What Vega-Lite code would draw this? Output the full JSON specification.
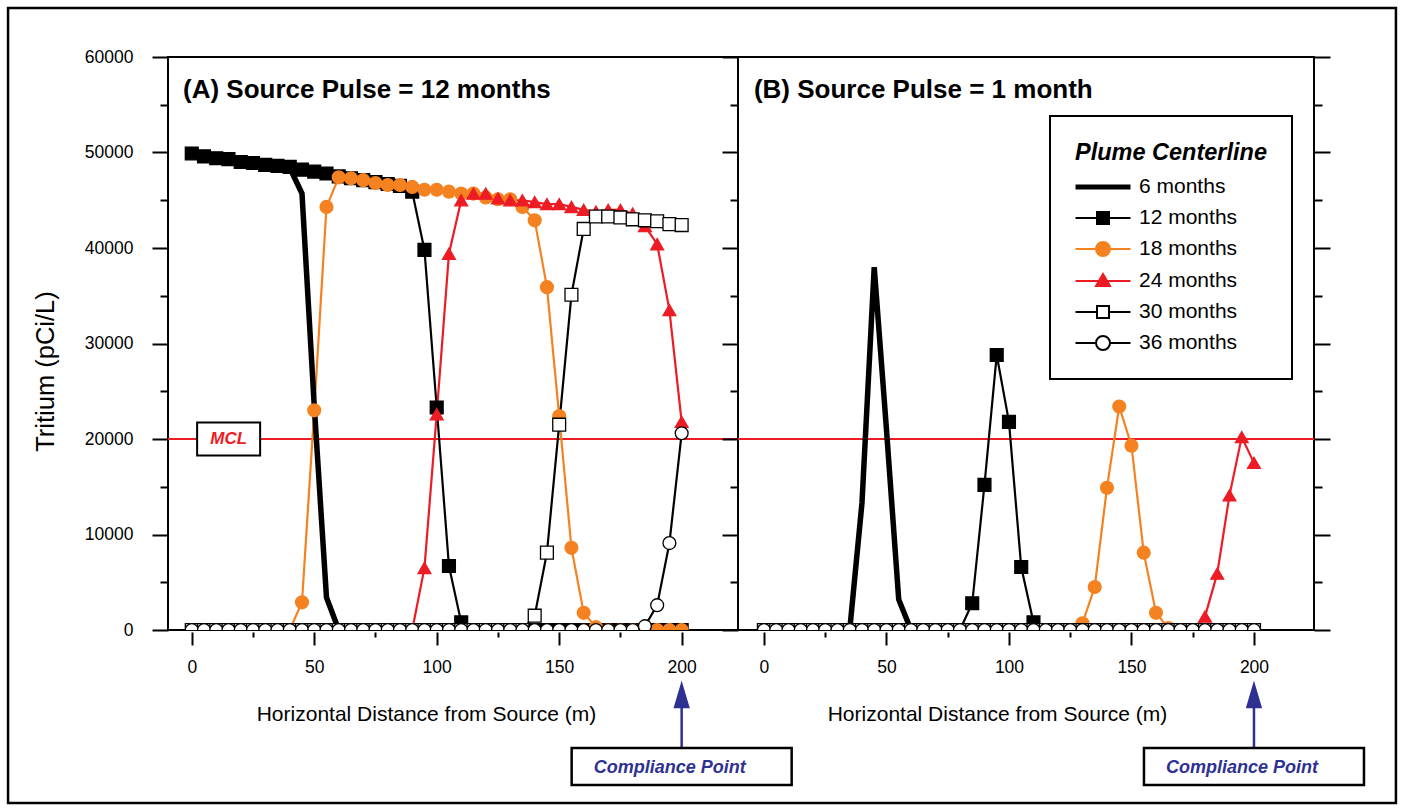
{
"$schema": "https://vega.github.io/schema/vega-lite/v6.json",
"background": "white",
"padding": {"left": 5, "top": 5, "right": 8, "bottom": 9},
"spacing": 0,
"bounds": "flush",
"datasets": {
"A": [
{"d":0,"6 months":49900,"12 months":49900,"18 months":0,"24 months":0,"30 months":0,"36 months":0},
{"d":5,"6 months":49600,"12 months":49600,"18 months":0,"24 months":0,"30 months":0,"36 months":0},
{"d":10,"6 months":49400,"12 months":49400,"18 months":0,"24 months":0,"30 months":0,"36 months":0},
{"d":15,"6 months":49300,"12 months":49300,"18 months":0,"24 months":0,"30 months":0,"36 months":0},
{"d":20,"6 months":49000,"12 months":49000,"18 months":0,"24 months":0,"30 months":0,"36 months":0},
{"d":25,"6 months":48900,"12 months":48900,"18 months":0,"24 months":0,"30 months":0,"36 months":0},
{"d":30,"6 months":48700,"12 months":48700,"18 months":0,"24 months":0,"30 months":0,"36 months":0},
{"d":35,"6 months":48600,"12 months":48600,"18 months":0,"24 months":0,"30 months":0,"36 months":0},
{"d":40,"6 months":48400,"12 months":48500,"18 months":0,"24 months":0,"30 months":0,"36 months":0},
{"d":45,"6 months":45700,"12 months":48200,"18 months":2900,"24 months":0,"30 months":0,"36 months":0},
{"d":50,"6 months":23500,"12 months":48000,"18 months":23000,"24 months":0,"30 months":0,"36 months":0},
{"d":55,"6 months":3400,"12 months":47800,"18 months":44300,"24 months":0,"30 months":0,"36 months":0},
{"d":60,"6 months":0,"12 months":47500,"18 months":47400,"24 months":0,"30 months":0,"36 months":0},
{"d":65,"6 months":0,"12 months":47300,"18 months":47300,"24 months":0,"30 months":0,"36 months":0},
{"d":70,"6 months":0,"12 months":47100,"18 months":47100,"24 months":0,"30 months":0,"36 months":0},
{"d":75,"6 months":0,"12 months":46900,"18 months":46800,"24 months":0,"30 months":0,"36 months":0},
{"d":80,"6 months":0,"12 months":46700,"18 months":46600,"24 months":0,"30 months":0,"36 months":0},
{"d":85,"6 months":0,"12 months":46500,"18 months":46600,"24 months":0,"30 months":0,"36 months":0},
{"d":90,"6 months":0,"12 months":45900,"18 months":46400,"24 months":0,"30 months":0,"36 months":0},
{"d":95,"6 months":0,"12 months":39800,"18 months":46100,"24 months":6500,"30 months":0,"36 months":0},
{"d":100,"6 months":0,"12 months":23300,"18 months":46100,"24 months":22600,"30 months":0,"36 months":0},
{"d":105,"6 months":0,"12 months":6700,"18 months":45900,"24 months":39400,"30 months":0,"36 months":0},
{"d":110,"6 months":0,"12 months":800,"18 months":45700,"24 months":45000,"30 months":0,"36 months":0},
{"d":115,"6 months":0,"12 months":0,"18 months":45700,"24 months":45700,"30 months":0,"36 months":0},
{"d":120,"6 months":0,"12 months":0,"18 months":45300,"24 months":45700,"30 months":0,"36 months":0},
{"d":125,"6 months":0,"12 months":0,"18 months":45100,"24 months":45200,"30 months":0,"36 months":0},
{"d":130,"6 months":0,"12 months":0,"18 months":45100,"24 months":45000,"30 months":0,"36 months":0},
{"d":135,"6 months":0,"12 months":0,"18 months":44300,"24 months":45000,"30 months":0,"36 months":0},
{"d":140,"6 months":0,"12 months":0,"18 months":42900,"24 months":44800,"30 months":1500,"36 months":0},
{"d":145,"6 months":0,"12 months":0,"18 months":35900,"24 months":44600,"30 months":8100,"36 months":0},
{"d":150,"6 months":0,"12 months":0,"18 months":22400,"24 months":44600,"30 months":21500,"36 months":0},
{"d":155,"6 months":0,"12 months":0,"18 months":8600,"24 months":44300,"30 months":35100,"36 months":0},
{"d":160,"6 months":0,"12 months":0,"18 months":1800,"24 months":44000,"30 months":42000,"36 months":0},
{"d":165,"6 months":0,"12 months":0,"18 months":300,"24 months":43800,"30 months":43300,"36 months":0},
{"d":170,"6 months":0,"12 months":0,"18 months":0,"24 months":44000,"30 months":43300,"36 months":0},
{"d":175,"6 months":0,"12 months":0,"18 months":0,"24 months":44000,"30 months":43200,"36 months":0},
{"d":180,"6 months":0,"12 months":0,"18 months":0,"24 months":43600,"30 months":43000,"36 months":0},
{"d":185,"6 months":0,"12 months":0,"18 months":0,"24 months":42300,"30 months":42900,"36 months":400},
{"d":190,"6 months":0,"12 months":0,"18 months":0,"24 months":40400,"30 months":42800,"36 months":2600},
{"d":195,"6 months":0,"12 months":0,"18 months":0,"24 months":33500,"30 months":42500,"36 months":9100},
{"d":200,"6 months":0,"12 months":0,"18 months":0,"24 months":21800,"30 months":42400,"36 months":20600}
],
"B": [
{"d":0,"6 months":0,"12 months":0,"18 months":0,"24 months":0,"30 months":0,"36 months":0},
{"d":5,"6 months":0,"12 months":0,"18 months":0,"24 months":0,"30 months":0,"36 months":0},
{"d":10,"6 months":0,"12 months":0,"18 months":0,"24 months":0,"30 months":0,"36 months":0},
{"d":15,"6 months":0,"12 months":0,"18 months":0,"24 months":0,"30 months":0,"36 months":0},
{"d":20,"6 months":0,"12 months":0,"18 months":0,"24 months":0,"30 months":0,"36 months":0},
{"d":25,"6 months":0,"12 months":0,"18 months":0,"24 months":0,"30 months":0,"36 months":0},
{"d":30,"6 months":0,"12 months":0,"18 months":0,"24 months":0,"30 months":0,"36 months":0},
{"d":35,"6 months":0,"12 months":0,"18 months":0,"24 months":0,"30 months":0,"36 months":0},
{"d":40,"6 months":13300,"12 months":0,"18 months":0,"24 months":0,"30 months":0,"36 months":0},
{"d":45,"6 months":38000,"12 months":0,"18 months":0,"24 months":0,"30 months":0,"36 months":0},
{"d":50,"6 months":21000,"12 months":0,"18 months":0,"24 months":0,"30 months":0,"36 months":0},
{"d":55,"6 months":3200,"12 months":0,"18 months":0,"24 months":0,"30 months":0,"36 months":0},
{"d":60,"6 months":0,"12 months":0,"18 months":0,"24 months":0,"30 months":0,"36 months":0},
{"d":65,"6 months":0,"12 months":0,"18 months":0,"24 months":0,"30 months":0,"36 months":0},
{"d":70,"6 months":0,"12 months":0,"18 months":0,"24 months":0,"30 months":0,"36 months":0},
{"d":75,"6 months":0,"12 months":0,"18 months":0,"24 months":0,"30 months":0,"36 months":0},
{"d":80,"6 months":0,"12 months":0,"18 months":0,"24 months":0,"30 months":0,"36 months":0},
{"d":85,"6 months":0,"12 months":2800,"18 months":0,"24 months":0,"30 months":0,"36 months":0},
{"d":90,"6 months":0,"12 months":15200,"18 months":0,"24 months":0,"30 months":0,"36 months":0},
{"d":95,"6 months":0,"12 months":28800,"18 months":0,"24 months":0,"30 months":0,"36 months":0},
{"d":100,"6 months":0,"12 months":21800,"18 months":0,"24 months":0,"30 months":0,"36 months":0},
{"d":105,"6 months":0,"12 months":6600,"18 months":0,"24 months":0,"30 months":0,"36 months":0},
{"d":110,"6 months":0,"12 months":800,"18 months":0,"24 months":0,"30 months":0,"36 months":0},
{"d":115,"6 months":0,"12 months":0,"18 months":0,"24 months":0,"30 months":0,"36 months":0},
{"d":120,"6 months":0,"12 months":0,"18 months":0,"24 months":0,"30 months":0,"36 months":0},
{"d":125,"6 months":0,"12 months":0,"18 months":0,"24 months":0,"30 months":0,"36 months":0},
{"d":130,"6 months":0,"12 months":0,"18 months":700,"24 months":0,"30 months":0,"36 months":0},
{"d":135,"6 months":0,"12 months":0,"18 months":4500,"24 months":0,"30 months":0,"36 months":0},
{"d":140,"6 months":0,"12 months":0,"18 months":14900,"24 months":0,"30 months":0,"36 months":0},
{"d":145,"6 months":0,"12 months":0,"18 months":23400,"24 months":0,"30 months":0,"36 months":0},
{"d":150,"6 months":0,"12 months":0,"18 months":19300,"24 months":0,"30 months":0,"36 months":0},
{"d":155,"6 months":0,"12 months":0,"18 months":8100,"24 months":0,"30 months":0,"36 months":0},
{"d":160,"6 months":0,"12 months":0,"18 months":1800,"24 months":0,"30 months":0,"36 months":0},
{"d":165,"6 months":0,"12 months":0,"18 months":200,"24 months":0,"30 months":0,"36 months":0},
{"d":170,"6 months":0,"12 months":0,"18 months":0,"24 months":0,"30 months":0,"36 months":0},
{"d":175,"6 months":0,"12 months":0,"18 months":0,"24 months":0,"30 months":0,"36 months":0},
{"d":180,"6 months":0,"12 months":0,"18 months":0,"24 months":1400,"30 months":0,"36 months":0},
{"d":185,"6 months":0,"12 months":0,"18 months":0,"24 months":5900,"30 months":0,"36 months":0},
{"d":190,"6 months":0,"12 months":0,"18 months":0,"24 months":14100,"30 months":0,"36 months":0},
{"d":195,"6 months":0,"12 months":0,"18 months":0,"24 months":20200,"30 months":0,"36 months":0},
{"d":200,"6 months":0,"12 months":0,"18 months":0,"24 months":17500,"30 months":0,"36 months":0}
]
},
"hconcat": [
{
"width": 570, "height": 573,
"data": {"name": "A"},
"resolve": {"axis": {"x": "independent", "y": "independent"}},
"layer": [
{
"data": {"values": [{}]},
"mark": {"type": "rect", "fillOpacity": 0, "stroke": "black", "strokeWidth": 2.5, "clip": false},
"encoding": {
"x": {"datum": -75.0, "type": "quantitative", "axis": null},
"x2": {"datum": 491.6},
"y": {"datum": 65131, "type": "quantitative", "axis": null},
"y2": {"datum": -18115}
}
},
{
"data": {"values": [{}]},
"mark": {"type": "rule", "color": "#ED1C24", "strokeWidth": 2},
"encoding": {"y": {"datum": 20000, "type": "quantitative", "axis": null}}
},
{
"transform": [{"fold": ["6 months","12 months","18 months","24 months","30 months","36 months"], "as": ["series","conc"]}, {"filter": "datum.series !== '6 months'"}],
"mark": {"type": "line", "strokeWidth": 2.2, "clip": true},
"encoding": {
"x": {"field": "d", "type": "quantitative", "scale": {"domain": [-9.7, 223], "nice": false, "zero": false},
"axis": {"orient": "bottom", "values": [0,50,100,150,200], "tickSize": 13, "offset": 2, "labelPadding": 13, "title": "Horizontal Distance from Source (m)", "titleFontSize": 21, "titleX": 258, "titleY": 88, "titleAlign": "center", "titleBaseline": "alphabetic"}},
"y": {"field": "conc", "type": "quantitative", "scale": {"domain": [0, 60000], "nice": false},
"axis": {"orient": "left", "values": [0,10000,20000,30000,40000,50000,60000], "format": "d", "tickSize": 16, "labelPadding": 19, "title": "Tritium (pCi/L)", "titleFontSize": 25.5, "titleX": -123, "titleY": 314, "titleAngle": -90, "titleAlign": "center", "titleBaseline": "middle"}},
"stroke": {"field": "series", "type": "nominal", "scale": {"domain": ["6 months","12 months","18 months","24 months","30 months","36 months"], "range": ["#000000","#000000","#F58220","#ED1C24","#000000","#000000"]}, "legend": null}
}
},
{
"transform": [{"fold": ["6 months","12 months","18 months","24 months","30 months","36 months"], "as": ["series","conc"]}, {"filter": "datum.series === '6 months'"}],
"mark": {"type": "line", "strokeWidth": 5.5, "clip": true},
"encoding": {
"x": {"field": "d", "type": "quantitative", "axis": {"orient": "bottom", "values": [25,75,125,175], "tickSize": 5, "offset": 2, "labels": false, "title": null}},
"y": {"field": "conc", "type": "quantitative", "axis": {"orient": "left", "values": [5000,15000,25000,35000,45000,55000], "tickSize": 8, "labels": false, "title": null}},
"stroke": {"field": "series", "type": "nominal", "legend": null}
}
},
{
"transform": [{"fold": ["6 months","12 months","18 months","24 months","30 months","36 months"], "as": ["series","conc"]}, {"filter": "datum.series !== '6 months'"}],
"mark": {"type": "point", "filled": true, "opacity": 1, "size": 165, "strokeWidth": 1.3, "clip": true},
"encoding": {
"x": {"field": "d", "type": "quantitative", "axis": null},
"y": {"field": "conc", "type": "quantitative", "axis": null},
"stroke": {"field": "series", "type": "nominal", "legend": null},
"fill": {"field": "series", "type": "nominal", "scale": {"domain": ["6 months","12 months","18 months","24 months","30 months","36 months"], "range": ["#000000","#000000","#F58220","#ED1C24","#FFFFFF","#FFFFFF"]}, "legend": null},
"shape": {"field": "series", "type": "nominal", "scale": {"domain": ["6 months","12 months","18 months","24 months","30 months","36 months"], "range": ["circle","square","circle","triangle-up","square","circle"]}, "legend": null},
"order": {"field": "series", "type": "ordinal"}
}
},
{
"data": {"values": [{}]},
"mark": {"type": "point", "shape": "M-31.5,-16.5H31.5V16.5H-31.5Z", "size": 4, "filled": true, "fill": "white", "stroke": "black", "strokeWidth": 2, "opacity": 1, "clip": false},
"encoding": {"x": {"datum": 15.05, "type": "quantitative", "axis": null}, "y": {"datum": 20000, "type": "quantitative", "axis": null}}
},
{
"data": {"values": [{}]},
"mark": {"type": "text", "text": "MCL", "font": "Liberation Sans", "fontSize": 17, "fontWeight": "bold", "fontStyle": "italic", "color": "#ED1C24", "align": "center", "baseline": "middle", "clip": false},
"encoding": {"x": {"datum": 15.05, "type": "quantitative", "axis": null}, "y": {"datum": 20000, "type": "quantitative", "axis": null}}
},
{
"data": {"values": [{}]},
"mark": {"type": "text", "text": "(A) Source Pulse = 12 months", "font": "Liberation Sans", "fontSize": 26, "fontWeight": "bold", "color": "black", "align": "left", "baseline": "alphabetic", "clip": false},
"encoding": {"x": {"datum": -3.56, "type": "quantitative", "axis": null}, "y": {"datum": 55700, "type": "quantitative", "axis": null}}
},
{
"data": {"values": [{}]},
"mark": {"type": "point", "shape": "M0,55L6.5,77H-6.5ZM0,75V118", "size": 4, "filled": true, "fill": "#2E3192", "stroke": "#2E3192", "strokeWidth": 2.5, "opacity": 1, "clip": false},
"encoding": {"x": {"datum": 200, "type": "quantitative", "axis": null}, "y": {"datum": 0, "type": "quantitative", "axis": null}}
},
{
"data": {"values": [{}]},
"mark": {"type": "point", "shape": "M-110,118H110V155H-110Z", "size": 4, "filled": true, "fill": "white", "stroke": "black", "strokeWidth": 2.5, "opacity": 1, "clip": false},
"encoding": {"x": {"datum": 200, "type": "quantitative", "axis": null}, "y": {"datum": 0, "type": "quantitative", "axis": null}}
},
{
"data": {"values": [{}]},
"mark": {"type": "text", "text": "Compliance Point", "font": "Liberation Sans", "fontSize": 18, "fontWeight": "bold", "fontStyle": "italic", "color": "#2E3192", "align": "center", "baseline": "middle", "dx": -12, "dy": 138, "clip": false},
"encoding": {"x": {"datum": 200, "type": "quantitative", "axis": null}, "y": {"datum": 0, "type": "quantitative", "axis": null}}
}
]
},
{
"width": 576, "height": 573,
"data": {"name": "B"},
"resolve": {"axis": {"x": "independent", "y": "independent"}},
"layer": [
{
"data": {"values": [{}]},
"mark": {"type": "rule", "color": "#ED1C24", "strokeWidth": 2},
"encoding": {"y": {"datum": 20000, "type": "quantitative", "axis": {"orient": "right", "values": [0,5000,10000,15000,20000,25000,30000,35000,40000,45000,50000,55000,60000], "labels": false, "tickSize": {"condition": {"test": "datum.value % 10000 === 0", "value": 16}, "value": 8}, "title": null}}}
},
{
"transform": [{"fold": ["6 months","12 months","18 months","24 months","30 months","36 months"], "as": ["series","conc"]}, {"filter": "datum.series !== '6 months'"}],
"mark": {"type": "line", "strokeWidth": 2.2, "clip": true},
"encoding": {
"x": {"field": "d", "type": "quantitative", "scale": {"domain": [-10.6, 224.5], "nice": false, "zero": false},
"axis": {"orient": "bottom", "values": [0,50,100,150,200], "tickSize": 13, "offset": 2, "labelPadding": 13, "title": "Horizontal Distance from Source (m)", "titleFontSize": 21, "titleX": 259, "titleY": 88, "titleAlign": "center", "titleBaseline": "alphabetic"}},
"y": {"field": "conc", "type": "quantitative", "scale": {"domain": [0, 60000], "nice": false},
"axis": {"orient": "left", "values": [0,5000,10000,15000,20000,25000,30000,35000,40000,45000,50000,55000,60000], "labels": false, "tickSize": {"condition": {"test": "datum.value % 10000 === 0", "value": 16}, "value": 8}, "title": null}},
"stroke": {"field": "series", "type": "nominal", "scale": {"domain": ["6 months","12 months","18 months","24 months","30 months","36 months"], "range": ["#000000","#000000","#F58220","#ED1C24","#000000","#000000"]},
"legend": {"orient": "none", "legendX": 312, "legendY": 59, "title": "Plume Centerline", "titleLimit": 600, "titleFont": "Liberation Sans", "titleFontSize": 23.5, "titleFontStyle": "italic", "titleFontWeight": "bold", "titleColor": "black", "titlePadding": 12, "labelFont": "Liberation Sans", "labelFontSize": 21, "labelColor": "black", "labelLimit": 400, "padding": 25, "strokeColor": "black", "fillColor": "white", "symbolSize": 196, "symbolOffset": 17.5, "labelOffset": 25.5, "rowPadding": 9,
"encoding": {
"symbols": {
"shape": {"value": {"expr": "datum.value === '6 months' ? 'M-27.5,0H27.5' : (datum.value === '12 months' || datum.value === '30 months') ? 'M-27.5,0H-6M6,0H27.5M-6,-6H6V6H-6Z' : datum.value === '24 months' ? 'M-27.5,0H27.5M0,-7L7,5H-7Z' : 'M-27.5,0H-7M7,0H27.5M7,0A7,7,0,1,1,-7,0A7,7,0,1,1,7,0Z'"}},
"size": {"value": 4},
"fill": {"value": {"expr": "datum.value === '6 months' ? 'transparent' : datum.value === '18 months' ? '#F58220' : datum.value === '24 months' ? '#ED1C24' : (datum.value === '30 months' || datum.value === '36 months') ? '#FFFFFF' : '#000000'"}},
"stroke": {"value": {"expr": "datum.value === '18 months' ? '#F58220' : datum.value === '24 months' ? '#ED1C24' : '#000000'"}},
"strokeWidth": {"value": {"expr": "datum.value === '6 months' ? 5 : 2"}},
"opacity": {"value": 1}
},
"legend": {"strokeWidth": {"value": 2}}
}}
}
}
},
{
"transform": [{"fold": ["6 months","12 months","18 months","24 months","30 months","36 months"], "as": ["series","conc"]}, {"filter": "datum.series === '6 months'"}],
"mark": {"type": "line", "strokeWidth": 5.5, "clip": true},
"encoding": {
"x": {"field": "d", "type": "quantitative", "axis": {"orient": "bottom", "values": [25,75,125,175], "tickSize": 5, "offset": 2, "labels": false, "title": null}},
"y": {"field": "conc", "type": "quantitative", "axis": null},
"stroke": {"field": "series", "type": "nominal"}
}
},
{
"transform": [{"fold": ["6 months","12 months","18 months","24 months","30 months","36 months"], "as": ["series","conc"]}, {"filter": "datum.series !== '6 months'"}],
"mark": {"type": "point", "filled": true, "opacity": 1, "size": 165, "strokeWidth": 1.3, "clip": true},
"encoding": {
"x": {"field": "d", "type": "quantitative", "axis": null},
"y": {"field": "conc", "type": "quantitative", "axis": null},
"stroke": {"field": "series", "type": "nominal"},
"fill": {"field": "series", "type": "nominal", "scale": {"domain": ["6 months","12 months","18 months","24 months","30 months","36 months"], "range": ["#000000","#000000","#F58220","#ED1C24","#FFFFFF","#FFFFFF"]}, "legend": null},
"shape": {"field": "series", "type": "nominal", "scale": {"domain": ["6 months","12 months","18 months","24 months","30 months","36 months"], "range": ["circle","square","circle","triangle-up","square","circle"]}, "legend": null},
"order": {"field": "series", "type": "ordinal"}
}
},
{
"data": {"values": [{}]},
"mark": {"type": "text", "text": "(B) Source Pulse = 1 month", "font": "Liberation Sans", "fontSize": 26, "fontWeight": "bold", "color": "black", "align": "left", "baseline": "alphabetic", "clip": false},
"encoding": {"x": {"datum": -4.1, "type": "quantitative", "axis": null}, "y": {"datum": 55700, "type": "quantitative", "axis": null}}
},
{
"data": {"values": [{}]},
"mark": {"type": "point", "shape": "M0,55L6.5,77H-6.5ZM0,75V118", "size": 4, "filled": true, "fill": "#2E3192", "stroke": "#2E3192", "strokeWidth": 2.5, "opacity": 1, "clip": false},
"encoding": {"x": {"datum": 200, "type": "quantitative", "axis": null}, "y": {"datum": 0, "type": "quantitative", "axis": null}}
},
{
"data": {"values": [{}]},
"mark": {"type": "point", "shape": "M-110,118H110V155H-110Z", "size": 4, "filled": true, "fill": "white", "stroke": "black", "strokeWidth": 2.5, "opacity": 1, "clip": false},
"encoding": {"x": {"datum": 200, "type": "quantitative", "axis": null}, "y": {"datum": 0, "type": "quantitative", "axis": null}}
},
{
"data": {"values": [{}]},
"mark": {"type": "text", "text": "Compliance Point", "font": "Liberation Sans", "fontSize": 18, "fontWeight": "bold", "fontStyle": "italic", "color": "#2E3192", "align": "center", "baseline": "middle", "dx": -12, "dy": 138, "clip": false},
"encoding": {"x": {"datum": 200, "type": "quantitative", "axis": null}, "y": {"datum": 0, "type": "quantitative", "axis": null}}
}
]
}
],
"resolve": {"legend": {"stroke": "independent"}},
"config": {
"view": {"stroke": "black", "strokeWidth": 2},
"font": "Liberation Sans",
"axis": {"labelFont": "Liberation Sans", "titleFont": "Liberation Sans", "labelColor": "black", "titleColor": "black", "tickColor": "black", "tickWidth": 2, "grid": false, "domain": false, "labelFontSize": 17.5, "titleFontWeight": "normal"}
}
}
